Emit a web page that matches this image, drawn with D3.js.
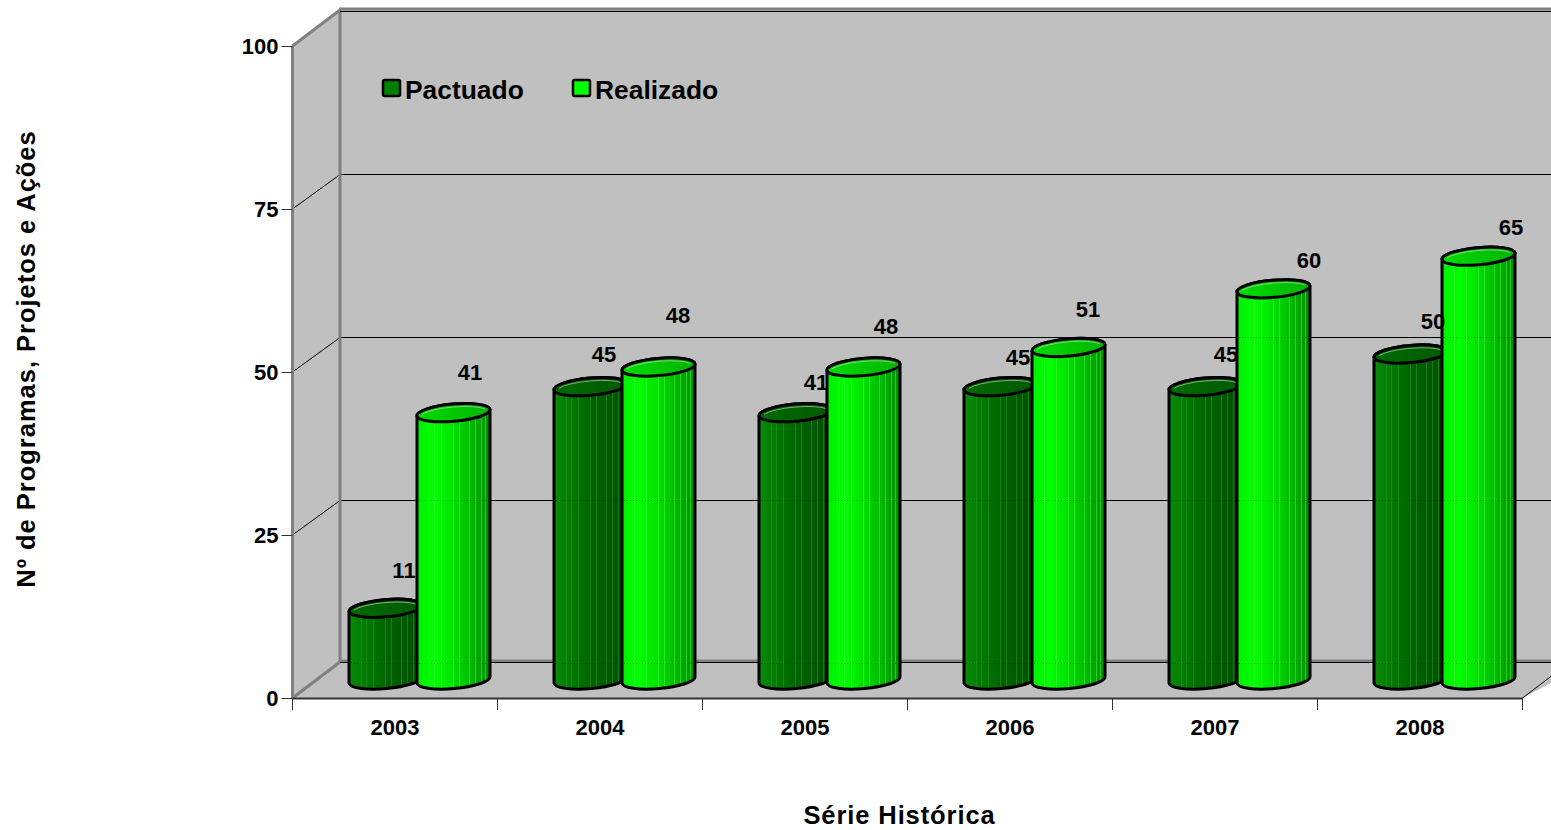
<!DOCTYPE html>
<html><head><meta charset="utf-8">
<script src="https://cdn.jsdelivr.net/npm/d3@7/dist/d3.min.js"></script>
<style>
html,body{margin:0;padding:0;background:#fff;overflow:hidden}
svg{display:block}
text{font-family:"Liberation Sans",Arial,sans-serif;font-weight:bold;fill:#000}
</style></head><body>
<script>
const categories = ["2003","2004","2005","2006","2007","2008"];
const seriesNames = ["Pactuado","Realizado"];
const pactuado = [11,45,41,45,45,50];
const realizado = [41,48,48,51,60,65];
const yTicks = [0,25,50,75,100];
const yTitle = "Nº de Programas, Projetos e Ações";
const xTitle = "Série Histórica";

const W=1551,H=830;
const svg=d3.select("body").append("svg").attr("width",W).attr("height",H);
const defs=svg.append("defs");
const dx=47.5, dy=36;
const x=d3.scaleBand().domain(categories).range([292.5,1522.5]);
const y=d3.scaleLinear().domain([0,100]).range([698,46]);
const inner=d3.scalePoint().domain(seriesNames).range([56.5,124.5]);
const gridY=t=>Math.round(y(t)-dy)+1.5;

// gradients
const stripes=[.08,.17,.24,.33,.41,.5,.58,.63,.72,.8,.88,.94];
function grad(id,base,light){
  const g=defs.append("linearGradient").attr("id",id).attr("x1",0).attr("x2",1).attr("y1",0).attr("y2",0);
  const c=d3.scaleLinear().domain(base.map((_,i)=>i/(base.length-1))).range(base);
  g.append("stop").attr("offset",0).attr("stop-color",c(0));
  stripes.forEach(s=>{
    const lit=d3.interpolateRgb(c(s),light)(.6);
    [[s-.004,c(s)],[s-.004,lit],[s+.006,lit],[s+.006,c(s)]].forEach(([o,col])=>
      g.append("stop").attr("offset",o).attr("stop-color",col));
  });
  g.append("stop").attr("offset",1).attr("stop-color",c(1));
}
grad("bodyP",["#0a8a0a","#007a00","#006400","#005a00","#004f00"],"#2a902a");
grad("bodyR",["#00f000","#00ff00","#00e000","#00b800","#008c00"],"#40f040");
const cg=(id,a,b)=>{const g=defs.append("linearGradient").attr("id",id);
  g.append("stop").attr("offset",0).attr("stop-color",a);g.append("stop").attr("offset",1).attr("stop-color",b);};
cg("capP","#006a00","#005a00");cg("capR","#00dc00","#00b400");

// walls
const wallStroke="#808080";
const backTop=y(100)-dy, backBot=y(0)-dy;
svg.append("rect").attr("x",292.5+dx).attr("y",backTop).attr("width",W).attr("height",backBot-backTop).attr("fill","#c0c0c0");
svg.append("path").attr("d",`M292.5,${y(100)}L${292.5+dx},${backTop}L${292.5+dx},${backBot}L292.5,${y(0)}Z`).attr("fill","#c0c0c0");
svg.append("path").attr("d",`M292.5,${y(0)}L${292.5+dx},${backBot}L${W+40},${backBot}L1522.5,${y(0)}Z`).attr("fill","#c0c0c0");
// grid
yTicks.forEach(t=>{
  if(t>0&&t<100){
    const Y=gridY(t);
    svg.append("line").attr("x1",292.5).attr("y1",y(t)).attr("x2",292.5+dx).attr("y2",Y).attr("stroke","#000");
    svg.append("line").attr("x1",292.5+dx).attr("y1",Y).attr("x2",W).attr("y2",Y).attr("stroke","#000").attr("shape-rendering","crispEdges");
  }
});
const gray=(x1,y1,x2,y2,w=3)=>svg.append("line").attr("x1",x1).attr("y1",y1).attr("x2",x2).attr("y2",y2).attr("stroke",wallStroke).attr("stroke-width",w);
gray(292.5,y(100),292.5,y(0));
gray(292.5+dx,backTop,292.5+dx,backBot);
gray(292.5,y(100),292.5+dx,backTop);
gray(292.5+dx-1,backTop-1,W,backTop-1);
gray(292.5,y(0),292.5+dx,backBot);
gray(292.5+dx,backBot-1,W,backBot-1);
svg.append("line").attr("x1",292.5+dx).attr("y1",backTop+1.5).attr("x2",W).attr("y2",backTop+1.5).attr("stroke","#000").attr("shape-rendering","crispEdges");
svg.append("line").attr("x1",292.5+dx).attr("y1",backBot+.5).attr("x2",W).attr("y2",backBot+.5).attr("stroke","#000").attr("shape-rendering","crispEdges");
svg.append("line").attr("x1",1522.5).attr("y1",y(0)).attr("x2",1522.5+dx).attr("y2",y(0)-dy).attr("stroke","#000");

// axes
const axY=svg.append("g").attr("transform","translate(292.5,0)").call(d3.axisLeft(y).tickValues(yTicks).tickSize(11).tickPadding(3));
axY.select(".domain").remove();
axY.selectAll("line").attr("stroke","#333");
axY.selectAll("text").style("font-size","22px").style("font-family",'"Liberation Sans"');
const axX=svg.append("g").attr("transform",`translate(0,${y(0)})`).call(d3.axisBottom(x).tickSize(0).tickPadding(21));
axX.select(".domain").attr("stroke","#333").attr("stroke-width",2);
axX.selectAll("text").style("font-size","22px").style("font-family",'"Liberation Sans"');
svg.selectAll(".xt").data(d3.range(categories.length+1)).join("line").attr("class","xt")
  .attr("x1",i=>292.5+i*x.step()).attr("x2",i=>292.5+i*x.step()).attr("y1",y(0)).attr("y2",y(0)+12).attr("stroke","#333");

// cylinders
const bw=73, slope=6.4, ry=8.6, rx=Math.hypot(bw,slope)/2, rot=-5, lift=18;
function cyl(g,left,v,kind){
  const c=y(v)-lift, b=y(0)-lift, r=left+bw;
  const A=(sw,X,Y,R=rx,S=ry)=>`A${R},${S} ${rot} 0 ${sw} ${X},${Y}`;
  g.append("path").attr("d",`M${left},${c+slope/2}L${left},${b+slope/2}${A(0,r,b-slope/2)}L${r},${c-slope/2}${A(0,left,c+slope/2)}Z`)
    .attr("fill",`url(#body${kind})`).attr("stroke","#000").attr("stroke-width",3);
  g.append("path").attr("d",`M${left},${c+slope/2}${A(0,r,c-slope/2)}${A(0,left,c+slope/2)}Z`)
    .attr("fill",`url(#cap${kind})`).attr("stroke","#000").attr("stroke-width",3);
  g.append("path").attr("d",`M${r-5},${c-slope/2-.5}${A(0,left+5,c+slope/2-1.5,rx-3,ry-1.5)}`)
    .attr("fill","none").attr("stroke","#d8d8d8").attr("stroke-width",1).attr("stroke-opacity",.6);
  // grid lines show faintly through the bars in the source
  yTicks.forEach(t=>{
    const G=gridY(t);
    if(t<100&&G>c+10&&G<b){
      g.append("line").attr("x1",left+2).attr("x2",r-2).attr("y1",G).attr("y2",G)
        .attr("stroke","#000").attr("stroke-opacity",.28).attr("stroke-dasharray","1 2").attr("shape-rendering","crispEdges");
    }
  });
}
const bars=svg.append("g");
categories.forEach((cat,i)=>{
  cyl(bars,x(cat)+inner("Pactuado"),pactuado[i],"P");
  cyl(bars,x(cat)+inner("Realizado"),realizado[i],"R");
});

// labels (hand-placed in the source chart)
const nudgeP=[[-18,-38],[-23,-32],[-16,-30],[-19,-29],[-16,-32],[-14,-33]];
const nudgeR=[[-20,-40],[-17,-52],[-14,-41],[-17,-38],[-1,-29],[-4,-29]];
const lab=svg.append("g").style("font-size","22px").attr("text-anchor","middle");
categories.forEach((cat,i)=>{
  const lp=x(cat)+inner("Pactuado")+bw, lr=x(cat)+inner("Realizado")+bw;
  lab.append("text").attr("x",lp+nudgeP[i][0]).attr("y",y(pactuado[i])-lift+nudgeP[i][1]).attr("dy",".35em").text(pactuado[i]);
  lab.append("text").attr("x",lr+nudgeR[i][0]).attr("y",y(realizado[i])-lift+nudgeR[i][1]).attr("dy",".35em").text(realizado[i]);
});

// legend
[["Pactuado",382,"#008000",405],["Realizado",572,"#00ff00",595]].forEach(([n,lx,col,tx])=>{
  svg.append("rect").attr("x",lx+1).attr("y",80).attr("width",17).attr("height",16).attr("rx",1.5)
    .attr("fill",col).attr("stroke","#000").attr("stroke-width",2.5);
  svg.append("text").attr("x",tx).attr("y",99).style("font-size","26.4px").text(n);
});

// titles
svg.append("text").attr("x",899.5).attr("y",824).attr("text-anchor","middle").style("font-size","25.5px").style("letter-spacing","0.9px").text(xTitle);
svg.append("text").attr("transform","translate(35,359) rotate(-90)").attr("text-anchor","middle").style("font-size","25.5px").style("letter-spacing","0.98px").text(yTitle);
</script>
</body></html>
